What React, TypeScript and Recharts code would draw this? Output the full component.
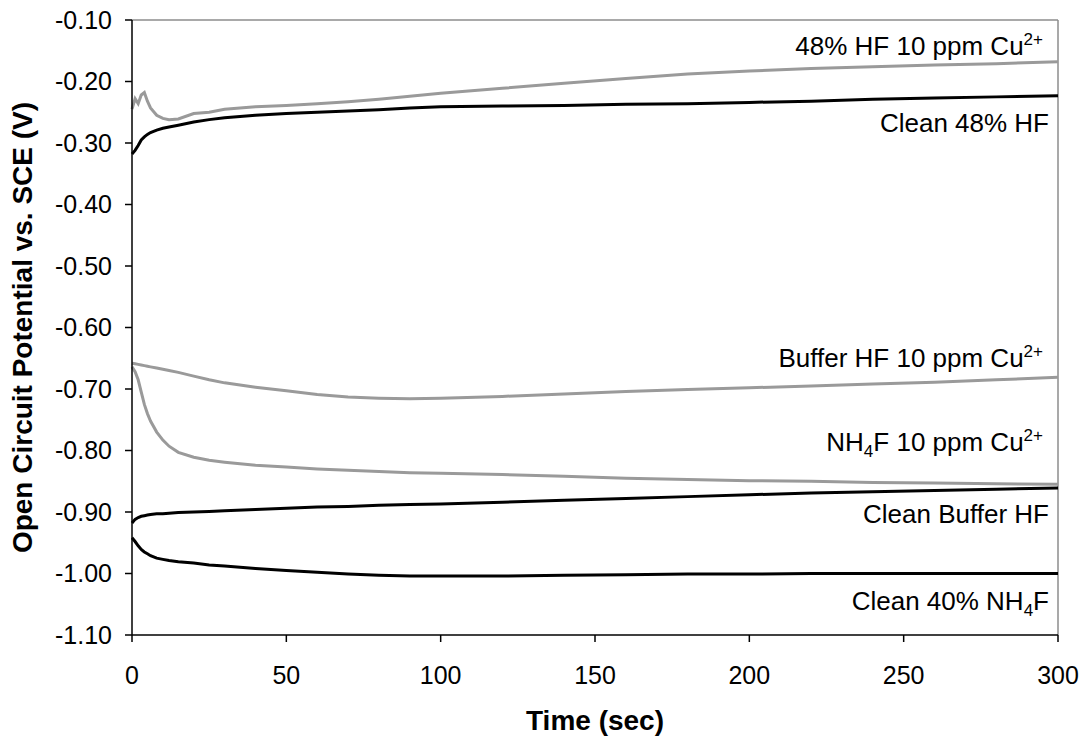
import { Line, LineChart, ReferenceDot, ReferenceLine, XAxis, YAxis } from 'recharts';

const FONT = '"Liberation Sans", Arial, sans-serif';

// sample times (sec) shared by all six traces
const time = [0, 1, 2, 3, 4, 5, 6, 8, 10, 12, 15, 20, 25, 30, 40, 50, 60, 70, 80, 90, 100, 120, 140, 160, 180, 200, 220, 240, 260, 280, 300];

// open circuit potential (V vs. SCE)
const hf48Cu = [-0.245, -0.228, -0.236, -0.222, -0.218, -0.232, -0.243, -0.255, -0.26, -0.262, -0.261, -0.252, -0.25, -0.245, -0.241, -0.239, -0.236, -0.233, -0.229, -0.224, -0.219, -0.211, -0.203, -0.195, -0.188, -0.183, -0.179, -0.176, -0.173, -0.171, -0.168];
const hf48Clean = [-0.318, -0.312, -0.304, -0.295, -0.29, -0.286, -0.283, -0.279, -0.276, -0.274, -0.271, -0.266, -0.262, -0.259, -0.255, -0.252, -0.25, -0.248, -0.246, -0.243, -0.241, -0.24, -0.239, -0.237, -0.236, -0.234, -0.232, -0.229, -0.227, -0.225, -0.223];
const bufferCu = [-0.658, -0.659, -0.66, -0.661, -0.662, -0.663, -0.664, -0.666, -0.668, -0.67, -0.673, -0.679, -0.685, -0.69, -0.697, -0.703, -0.709, -0.713, -0.715, -0.716, -0.715, -0.712, -0.708, -0.704, -0.701, -0.698, -0.695, -0.692, -0.689, -0.685, -0.681];
const nh4fCu = [-0.664, -0.672, -0.685, -0.705, -0.725, -0.74, -0.752, -0.77, -0.783, -0.793, -0.803, -0.811, -0.816, -0.819, -0.824, -0.827, -0.83, -0.832, -0.834, -0.836, -0.837, -0.839, -0.842, -0.845, -0.847, -0.849, -0.85, -0.852, -0.853, -0.854, -0.855];
const bufferClean = [-0.918, -0.912, -0.909, -0.907, -0.906, -0.905, -0.904, -0.903, -0.903, -0.902, -0.901, -0.9, -0.899, -0.898, -0.896, -0.894, -0.892, -0.891, -0.889, -0.888, -0.887, -0.884, -0.881, -0.878, -0.875, -0.872, -0.869, -0.867, -0.865, -0.863, -0.861];
const nh4fClean = [-0.942, -0.948, -0.955, -0.961, -0.965, -0.968, -0.971, -0.975, -0.977, -0.979, -0.981, -0.983, -0.986, -0.988, -0.992, -0.995, -0.998, -1.001, -1.003, -1.004, -1.004, -1.004, -1.003, -1.002, -1.001, -1.001, -1.0, -1.0, -1.0, -1.0, -1.0];

const xTicks = [0, 50, 100, 150, 200, 250, 300];
const yTicks = [-1.1, -1.0, -0.9, -0.8, -0.7, -0.6, -0.5, -0.4, -0.3, -0.2, -0.1];

// curve labels: text pieces ('' normal, 'sup', 'sub') and the potential their baseline sits at
const labelParts: [string, string][][] = [
  [['48% HF 10 ppm Cu', ''], ['2+', 'sup']],
  [['Clean 48% HF', '']],
  [['Buffer HF 10 ppm Cu', ''], ['2+', 'sup']],
  [['NH', ''], ['4', 'sub'], ['F 10 ppm Cu', ''], ['2+', 'sup']],
  [['Clean Buffer HF', '']],
  [['Clean 40% NH', ''], ['4', 'sub'], ['F', '']],
];
const labelAt = [-0.157, -0.282, -0.664, -0.8, -0.918, -1.059];

const series = [
  { key: 'hf48Cu', values: hf48Cu, color: '#9a9a9a' },
  { key: 'hf48Clean', values: hf48Clean, color: '#000' },
  { key: 'bufferCu', values: bufferCu, color: '#9a9a9a' },
  { key: 'nh4fCu', values: nh4fCu, color: '#9a9a9a' },
  { key: 'bufferClean', values: bufferClean, color: '#000' },
  { key: 'nh4fClean', values: nh4fClean, color: '#000' },
];

const rows = time.map((t, i) => {
  const r: Record<string, number> = { t };
  series.forEach((s) => (r[s.key] = s.values[i]));
  return r;
});

function CurveLabel({ viewBox, parts }: any) {
  const x = viewBox.x + viewBox.width / 2;
  const y = viewBox.y + viewBox.height / 2;
  const hasSup = parts.some((p: [string, string]) => p[1] === 'sup');
  let shift = 0;
  const spans = parts.map(([txt, kind]: [string, string], i: number) => {
    const want = kind === 'sup' ? -10 : kind === 'sub' ? 6 : 0;
    const el = (
      <tspan key={i} dy={want - shift} fontSize={kind ? 17 : 26}>
        {txt}
      </tspan>
    );
    shift = want;
    return el;
  });
  return (
    <text x={x - (hasSup ? 15 : 9)} y={y} textAnchor="end" fontFamily={FONT} fontSize={26} fill="#000">
      {spans}
    </text>
  );
}

const XTitle = ({ viewBox }: any) => (
  <text x={viewBox.x + viewBox.width / 2} y={730} textAnchor="middle" fontFamily={FONT} fontSize={28} fontWeight="bold" fill="#000">
    Time (sec)
  </text>
);

const YTitle = ({ viewBox }: any) => {
  const x = 32;
  const y = viewBox.y + viewBox.height / 2;
  return (
    <text x={x} y={y} transform={`rotate(-90, ${x}, ${y})`} textAnchor="middle" fontFamily={FONT} fontSize={28} fontWeight="bold" fill="#000">
      Open Circuit Potential vs. SCE (V)
    </text>
  );
};

export default function App() {
  return (
    <div style={{ position: 'absolute', left: 0, top: 0 }}>
      <LineChart width={1084} height={738} data={rows} margin={{ top: 20, right: 26, bottom: 0, left: 0 }}>
        <XAxis
          type="number"
          dataKey="t"
          domain={[0, 300]}
          ticks={xTicks}
          interval={0}
          height={103}
          tickSize={7}
          tickMargin={24}
          axisLine={{ stroke: '#000', strokeWidth: 1.5 }}
          tickLine={{ stroke: '#000', strokeWidth: 1.5 }}
          tick={{ fontSize: 25, fill: '#000', fontFamily: FONT }}
          label={(p: any) => <XTitle {...p} />}
        />
        <YAxis
          type="number"
          domain={[-1.1, -0.1]}
          ticks={yTicks}
          interval={0}
          width={132}
          tickSize={7}
          tickMargin={13}
          axisLine={{ stroke: '#000', strokeWidth: 1.5 }}
          tickLine={{ stroke: '#000', strokeWidth: 1.5 }}
          tick={{ fontSize: 25, fill: '#000', fontFamily: FONT }}
          tickFormatter={(v: number) => v.toFixed(2)}
          label={(p: any) => <YTitle {...p} />}
        />
        <ReferenceLine y={-0.1} stroke="#8c8c8c" strokeWidth={1.5} />
        <ReferenceLine x={300} stroke="#8c8c8c" strokeWidth={1.5} />
        {series.map((s) => (
          <Line
            key={s.key}
            dataKey={s.key}
            type="linear"
            stroke={s.color}
            strokeWidth={3}
            dot={false}
            activeDot={false}
            isAnimationActive={false}
          />
        ))}
        {labelParts.map((parts, i) => (
          <ReferenceDot
            key={i}
            x={300}
            y={labelAt[i]}
            r={0}
            fill="none"
            stroke="none"
            label={(p: any) => <CurveLabel {...p} parts={parts} />}
          />
        ))}
      </LineChart>
    </div>
  );
}
